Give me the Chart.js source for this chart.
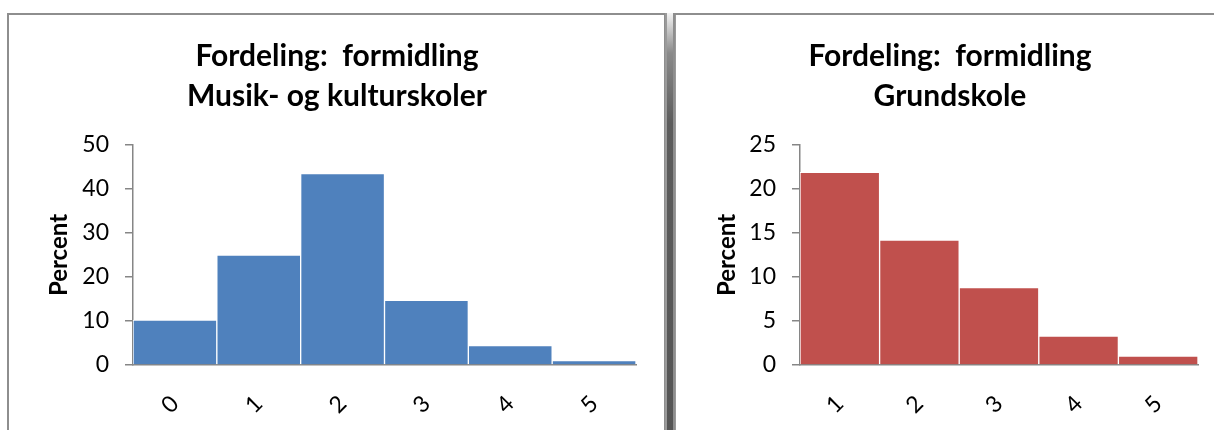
<!DOCTYPE html>
<html>
<head>
<meta charset="utf-8">
<script src="https://cdn.jsdelivr.net/npm/chart.js@4/dist/chart.umd.min.js"></script>
<style>
  html, body { margin: 0; padding: 0; background: #fff; overflow: hidden; width: 1214px; height: 430px; }
  .frame { position: absolute; border: 2px solid #8e8e8e; border-bottom: none; box-sizing: border-box; }
  #frameLeft { left: 7px; top: 13px; width: 659px; height: 420px; }
  #frameRight { left: 673px; top: 13px; width: 560px; height: 420px; }
  #divider {
    position: absolute; left: 665px; top: 13px; width: 11px; height: 420px; box-sizing: border-box;
    border-left: 2px solid #9a9a9a; border-right: 2px solid #9a9a9a;
    background: linear-gradient(to bottom, #f4f4f4 0px, #8a8a8a 40px, #5c5c5c 110px, #555 100%);
  }
  .wrap { position: absolute; }
  #wrapLeft { left: 10px; top: 16px; width: 652px; height: 414px; }
  #wrapRight { left: 676px; top: 16px; width: 560px; height: 414px; }
</style>
</head>
<body>
<div class="frame" id="frameLeft"></div>
<div id="divider"></div>
<div class="frame" id="frameRight"></div>
<div class="wrap" id="wrapLeft"><canvas id="chartLeft" width="652" height="414"></canvas></div>
<div class="wrap" id="wrapRight"><canvas id="chartRight" width="560" height="414"></canvas></div>
<script>
// Musik- og kulturskoler
const musikLabels = ['0', '1', '2', '3', '4', '5'];
const musikValues = [10.2, 25.0, 43.5, 14.7, 4.4, 1.0];
const musikTicks = [0, 10, 20, 30, 40, 50];

// Grundskole
const grundLabels = ['1', '2', '3', '4', '5'];
const grundValues = [21.9, 14.2, 8.8, 3.3, 1.0];
const grundTicks = [0, 5, 10, 15, 20, 25];

const FONT = 'Lato, "Open Sans", sans-serif';
const AXIS_GREY = '#868686';

function histogram(canvasId, cfg) {
    const ctx = document.getElementById(canvasId).getContext('2d');
    return new Chart(ctx, {
        type: 'bar',
        data: {
            labels: cfg.labels,
            datasets: [{
                data: cfg.values,
                backgroundColor: cfg.color,
                borderColor: '#ffffff',
                borderWidth: 1,
                barPercentage: 1,
                categoryPercentage: 1
            }]
        },
        options: {
            responsive: false,
            animation: false,
            layout: { padding: { left: cfg.padLeft, right: cfg.padRight, top: 0, bottom: 4 } },
            plugins: {
                legend: { display: false },
                tooltip: { enabled: false },
                title: {
                    display: true,
                    text: cfg.title,
                    color: '#000',
                    font: { family: FONT, size: 30, weight: 'bold', lineHeight: 40 / 30 },
                    padding: { top: 20, bottom: 29 }
                }
            },
            scales: {
                x: {
                    grid: { display: false, drawTicks: false },
                    border: { display: true, color: AXIS_GREY, width: 1.5 },
                    ticks: {
                        color: '#000',
                        font: { family: FONT, size: 23 },
                        minRotation: 45,
                        maxRotation: 45,
                        padding: 25
                    },
                    afterFit: (scale) => { scale.height = 61; }
                },
                y: {
                    min: 0,
                    max: cfg.ticks[cfg.ticks.length - 1],
                    afterBuildTicks: (scale) => { scale.ticks = cfg.ticks.map(v => ({ value: v })); },
                    grid: { drawOnChartArea: false, drawTicks: true, tickLength: 8, color: AXIS_GREY, lineWidth: 1.5 },
                    border: { display: true, color: AXIS_GREY, width: 1.5 },
                    ticks: {
                        color: '#000',
                        font: { family: FONT, size: 23 },
                        padding: 16
                    },
                    title: {
                        display: true,
                        text: 'Percent',
                        color: '#000',
                        font: { family: FONT, size: 24, weight: 'bold', lineHeight: 1.2 },
                        padding: { top: cfg.yTitlePad, bottom: 0 }
                    },
                    afterFit: (scale) => { scale.width = cfg.axisWidth; }
                }
            }
        }
    });
}

histogram('chartLeft', {
    labels: musikLabels,
    values: musikValues,
    ticks: musikTicks,
    color: '#4f81bd',
    title: ['Fordeling:  formidling', 'Musik- og kulturskoler'],
    padLeft: 28,
    padRight: 26,
    axisWidth: 95,
    yTitlePad: 7
});

histogram('chartRight', {
    labels: grundLabels,
    values: grundValues,
    ticks: grundTicks,
    color: '#c0504d',
    title: ['Fordeling:  formidling', 'Grundskole'],
    padLeft: 26,
    padRight: 38,
    axisWidth: 98,
    yTitlePad: 11
});
</script>
</body>
</html>
